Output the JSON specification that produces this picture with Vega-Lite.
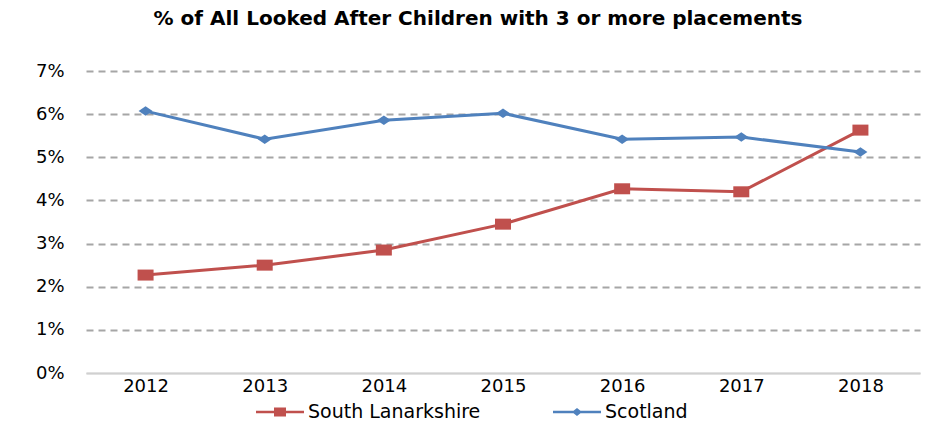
{
  "$schema": "https://vega.github.io/schema/vega-lite/v6.json",
  "width": 834,
  "height": 302,
  "autosize": "none",
  "padding": {"left": 86, "top": 71, "right": 19, "bottom": 53},
  "background": "white",
  "config": {"view": {"stroke": null}, "font": "DejaVu Sans"},
  "title": {"text": "% of All Looked After Children with 3 or more placements", "font": "DejaVu Sans", "fontSize": 20, "fontWeight": "bold", "color": "#000000", "offset": 33, "dx": -25},
  "data": {"values": [
    {"year": "2012", "series": "South Lanarkshire", "value": 0.0227},
    {"year": "2013", "series": "South Lanarkshire", "value": 0.0250},
    {"year": "2014", "series": "South Lanarkshire", "value": 0.0285},
    {"year": "2015", "series": "South Lanarkshire", "value": 0.0345},
    {"year": "2016", "series": "South Lanarkshire", "value": 0.0427},
    {"year": "2017", "series": "South Lanarkshire", "value": 0.0420},
    {"year": "2018", "series": "South Lanarkshire", "value": 0.0563},
    {"year": "2012", "series": "Scotland", "value": 0.0607},
    {"year": "2013", "series": "Scotland", "value": 0.0542},
    {"year": "2014", "series": "Scotland", "value": 0.0586},
    {"year": "2015", "series": "Scotland", "value": 0.0602},
    {"year": "2016", "series": "Scotland", "value": 0.0542},
    {"year": "2017", "series": "Scotland", "value": 0.0547},
    {"year": "2018", "series": "Scotland", "value": 0.0512}
  ]},
  "encoding": {
    "x": {"field": "year", "type": "ordinal", "title": null,
      "scale": {"paddingInner": 0, "paddingOuter": 0},
      "axis": {"labelAngle": 0, "labelFontSize": 18, "labelColor": "#000000", "labelFont": "DejaVu Sans", "ticks": false, "labelPadding": 4, "domainColor": "#d0d0d0", "domainWidth": 1.5, "grid": false}},
    "y": {"field": "value", "type": "quantitative", "title": null,
      "scale": {"domain": [0, 0.07], "nice": false},
      "axis": {"format": ".0%", "values": [0, 0.01, 0.02, 0.03, 0.04, 0.05, 0.06, 0.07], "labelFontSize": 18, "labelColor": "#000000", "labelFont": "DejaVu Sans", "ticks": false, "labelPadding": 22, "domain": false, "grid": true, "gridColor": {"condition": {"test": "datum.value === 0", "value": "#d0d0d0"}, "value": "#a6a6a6"}, "gridDash": {"condition": {"test": "datum.value === 0", "value": []}, "value": [7, 5]}, "gridWidth": 2}}
  },
  "layer": [
    {
      "mark": {"type": "point", "filled": true, "size": 0, "opacity": 1},
      "encoding": {
        "color": {"field": "series", "type": "nominal", "scale": {"domain": ["South Lanarkshire", "Scotland"], "range": ["#C0504D", "#4F81BD"]},
          "legend": {"orient": "none", "legendX": 170, "legendY": 317, "direction": "horizontal", "title": null, "labelFontSize": 19, "labelColor": "#000000", "labelFont": "DejaVu Sans", "labelLimit": 400, "symbolSize": 2304, "symbolStrokeWidth": 0, "symbolOpacity": 1, "columnPadding": 72, "labelOffset": 4}},
        "shape": {"field": "series", "type": "nominal", "scale": {"domain": ["South Lanarkshire", "Scotland"], "range": ["M-1,-0.05H1V0.05H-1Z M-0.25,-0.19H0.25V0.19H-0.25Z", "M-1,-0.05H1V0.05H-1Z M0,-0.17L0.21,0L0,0.17L-0.21,0Z"]},
          "legend": {"orient": "none", "legendX": 170, "legendY": 317, "direction": "horizontal", "title": null, "labelFontSize": 19, "labelColor": "#000000", "labelFont": "DejaVu Sans", "labelLimit": 400, "symbolSize": 2304, "symbolStrokeWidth": 0, "symbolOpacity": 1, "columnPadding": 72, "labelOffset": 4}}
      }
    },
    {
      "mark": {"type": "line", "strokeWidth": 3},
      "encoding": {
        "stroke": {"field": "series", "type": "nominal", "scale": {"domain": ["South Lanarkshire", "Scotland"], "range": ["#C0504D", "#4F81BD"]}, "legend": null}
      }
    },
    {
      "transform": [{"filter": "datum.series === 'South Lanarkshire'"}],
      "mark": {"type": "point", "shape": "M-1.6,-1.1H1.6V1.1H-1.6Z", "filled": true, "size": 100, "color": "#C0504D", "opacity": 1}
    },
    {
      "transform": [{"filter": "datum.series === 'Scotland'"}],
      "mark": {"type": "point", "shape": "M0,-0.95L1.4,0L0,0.95L-1.4,0Z", "filled": true, "size": 100, "color": "#4F81BD", "opacity": 1}
    }
  ]
}
